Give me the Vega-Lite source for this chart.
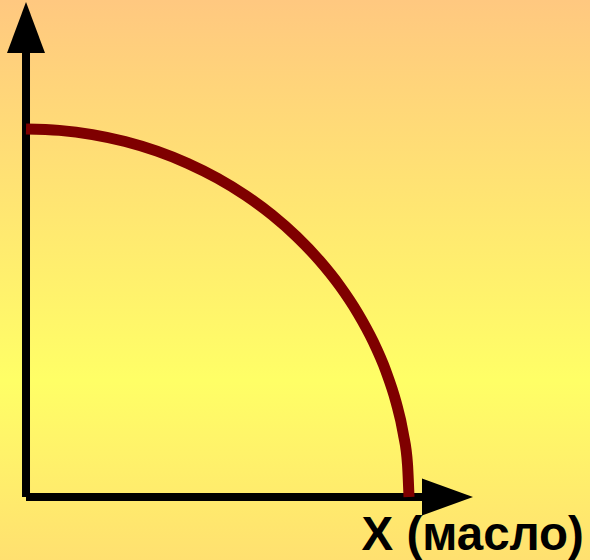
{
  "$schema": "https://vega.github.io/schema/vega-lite/v6.json",
  "width": 590,
  "height": 560,
  "padding": 0,
  "autosize": "none",
  "background": "#FFE070",
  "config": {"view": {"stroke": null}},
  "datasets": {
    "bg": [{"x0": -0.679, "x1": 14.726, "y0": -1.712, "y1": 13.505}],
    "vaxis": [{"x": 0, "y": 0, "y2": 12.065}],
    "haxis": [{"y": 0, "x": 0, "x2": 10.366}],
    "curve": [
      {"x": 0, "y": 10},
      {"x": 0.872, "y": 9.962},
      {"x": 1.736, "y": 9.848},
      {"x": 2.588, "y": 9.659},
      {"x": 3.42, "y": 9.397},
      {"x": 4.226, "y": 9.063},
      {"x": 5.0, "y": 8.66},
      {"x": 5.736, "y": 8.192},
      {"x": 6.428, "y": 7.66},
      {"x": 7.071, "y": 7.071},
      {"x": 7.66, "y": 6.428},
      {"x": 8.192, "y": 5.736},
      {"x": 8.66, "y": 5.0},
      {"x": 9.063, "y": 4.226},
      {"x": 9.397, "y": 3.42},
      {"x": 9.659, "y": 2.588},
      {"x": 9.848, "y": 1.736},
      {"x": 9.962, "y": 0.872},
      {"x": 10, "y": 0}
    ],
    "uparrow": [{"x": 0, "y": 12.758}],
    "rightarrow": [{"x": 11.005, "y": 0}],
    "label": [{"x": 8.76, "y": -1.44, "text": "X (масло)"}]
  },
  "layer": [
    {
      "data": {"name": "bg"},
      "mark": {
        "type": "rect",
        "color": {
          "gradient": "linear",
          "x1": 0, "y1": 0, "x2": 0, "y2": 1,
          "stops": [
            {"offset": 0, "color": "#FFC880"},
            {"offset": 0.68, "color": "#FFFF66"},
            {"offset": 1, "color": "#FFE070"}
          ]
        }
      },
      "encoding": {
        "x": {"field": "x0", "type": "quantitative", "scale": {"domain": [-0.679, 14.726], "nice": false, "zero": false}, "axis": null},
        "x2": {"field": "x1"},
        "y": {"field": "y0", "type": "quantitative", "scale": {"domain": [-1.712, 13.505], "nice": false, "zero": false}, "axis": null},
        "y2": {"field": "y1"}
      }
    },
    {
      "data": {"name": "vaxis"},
      "mark": {"type": "rule", "color": "#000000", "strokeWidth": 8, "strokeCap": "butt"},
      "encoding": {
        "x": {"field": "x", "type": "quantitative"},
        "y": {"field": "y", "type": "quantitative"},
        "y2": {"field": "y2"}
      }
    },
    {
      "data": {"name": "haxis"},
      "mark": {"type": "rule", "color": "#000000", "strokeWidth": 8, "strokeCap": "butt"},
      "encoding": {
        "y": {"field": "y", "type": "quantitative"},
        "x": {"field": "x", "type": "quantitative"},
        "x2": {"field": "x2"}
      }
    },
    {
      "data": {"name": "uparrow"},
      "mark": {"type": "point", "shape": "M0,-1L0.745,1L-0.745,1Z", "filled": true, "color": "#000000", "opacity": 1, "size": 2601},
      "encoding": {
        "x": {"field": "x", "type": "quantitative"},
        "y": {"field": "y", "type": "quantitative"}
      }
    },
    {
      "data": {"name": "rightarrow"},
      "mark": {"type": "point", "shape": "M-1,-0.725L1,0L-1,0.725Z", "filled": true, "color": "#000000", "opacity": 1, "size": 2601},
      "encoding": {
        "x": {"field": "x", "type": "quantitative"},
        "y": {"field": "y", "type": "quantitative"}
      }
    },
    {
      "data": {"name": "curve"},
      "mark": {"type": "line", "color": "#7F0000", "strokeWidth": 11, "strokeCap": "butt", "strokeJoin": "round", "interpolate": "monotone"},
      "encoding": {
        "x": {"field": "x", "type": "quantitative"},
        "y": {"field": "y", "type": "quantitative"},
        "order": {"field": "x", "type": "quantitative"}
      }
    },
    {
      "data": {"name": "label"},
      "mark": {"type": "text", "align": "left", "baseline": "alphabetic", "font": "Liberation Sans", "fontWeight": "bold", "fontSize": 47.5, "color": "#000000"},
      "encoding": {
        "x": {"field": "x", "type": "quantitative"},
        "y": {"field": "y", "type": "quantitative"},
        "text": {"field": "text"}
      }
    }
  ]
}
